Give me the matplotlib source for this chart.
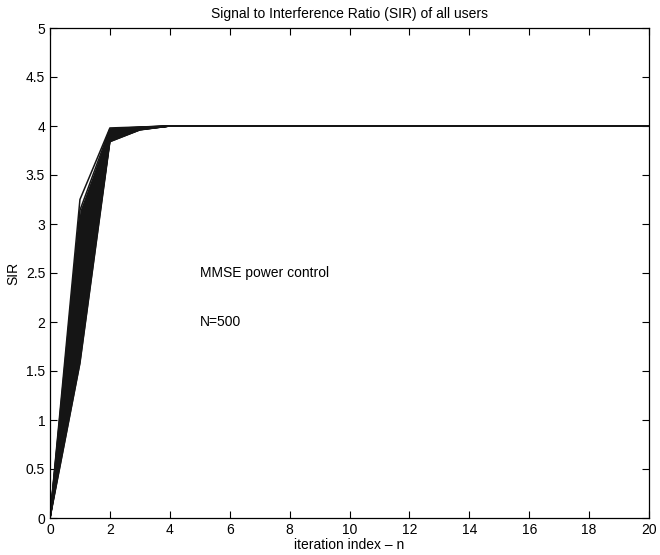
import numpy as np
import matplotlib
matplotlib.use("Agg")
import matplotlib.pyplot as plt
from matplotlib.ticker import FuncFormatter, MultipleLocator

plt.rcParams["font.family"] = ["Liberation Sans", "DejaVu Sans"]

# iteration index
n = np.arange(0, 21)

# SIR of each (sampled) user at iterations 1, 2, 3; 0 at start, 4 from n=4 on
sir_n1 = [1.58, 1.70, 1.82, 1.95, 2.08, 2.20, 2.33, 2.45, 2.58, 2.70, 2.82, 2.95, 3.05, 3.14, 3.25]
sir_n2 = [3.84, 3.85, 3.86, 3.87, 3.88, 3.89, 3.90, 3.91, 3.92, 3.93, 3.94, 3.95, 3.96, 3.97, 3.98]
sir_n3 = [3.960, 3.962, 3.965, 3.968, 3.970, 3.972, 3.975, 3.977, 3.979, 3.981, 3.983, 3.985, 3.987, 3.989, 3.990]
sir_start = 0.0
sir_target = 4.0

curves = []
for a, b, c in zip(sir_n1, sir_n2, sir_n3):
    y = np.full(len(n), sir_target)
    y[0] = sir_start
    y[1], y[2], y[3] = a, b, c
    curves.append(y)
curves = np.array(curves)

fig = plt.figure(figsize=(6.6, 5.55), dpi=100)
ax = fig.add_axes([50 / 660, 1 - 518 / 555, 599 / 660, 490 / 555])

# solid band of the main group of users (outlier excluded)
ax.fill_between(n, curves[:-1].min(axis=0), curves[:-1].max(axis=0),
                color="#151515", lw=0)
for y in curves:
    ax.plot(n, y, color="#151515", lw=1.1)

ax.text(5, 2.5, "MMSE power control", fontsize=10, va="center")
ax.text(5, 2.0, "N=500", fontsize=10, va="center")

ax.set_xlim(0, 20)
ax.set_ylim(0, 5)
ax.xaxis.set_major_locator(MultipleLocator(2))
ax.yaxis.set_major_locator(MultipleLocator(0.5))
ax.yaxis.set_major_formatter(FuncFormatter(lambda v, p: f"{v:g}"))
ax.tick_params(direction="in", top=True, right=True, length=5, labelsize=10, width=0.8)
for s in ax.spines.values():
    s.set_linewidth(0.9)

ax.set_xlabel("iteration index \u2013 n", fontsize=10, labelpad=1)
ax.set_ylabel("SIR", fontsize=10, labelpad=4)
ax.set_title("Signal to Interference Ratio (SIR) of all users", fontsize=10, pad=7)

fig.savefig("out.png", dpi=100)
